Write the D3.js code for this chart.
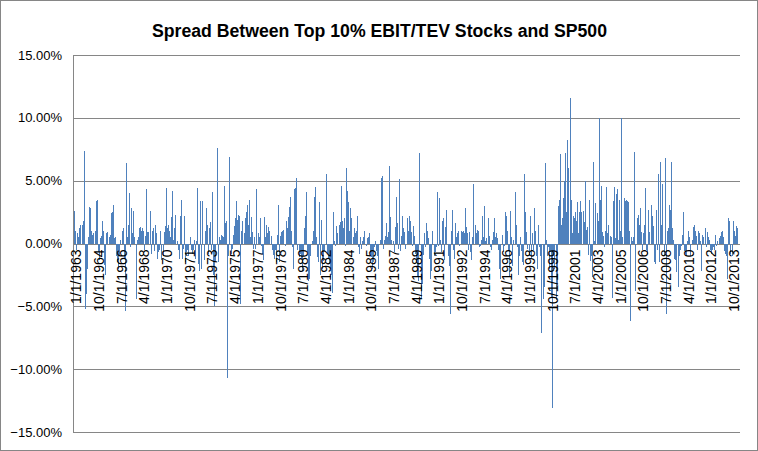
<!DOCTYPE html>
<html><head><meta charset="utf-8">
<script src="https://cdn.jsdelivr.net/npm/d3@7"></script>
<style>body{margin:0;background:#fff}svg{display:block}</style>
</head><body>
<svg id="c" width="758" height="451"></svg>
<script>
const title = "Spread Between Top 10% EBIT/TEV Stocks and SP500";
const startYear = 1963;
// monthly spread, percent
const spread = [
2.6,1.0,-0.5,0.8,0.5,1.2,1.5,1.5,1.8,7.4,-5.2,-4.0,-2.0,0.5,2.9,2.8,1.0,0.7,0.8,1.0,3.4,3.5,-0.7,-1.3,0.4,0.6,1.8,1.0,-1.7,-2.5,0.8,0.9,0.5,0.7,2.4,2.5,3.1,0.4,0.5,-1.0,-1.5,-2.0,-1.0,0.3,1.0,1.2,-1.2,-5.4,6.4,0.5,
1.5,4.0,-0.3,2.8,0.8,2.6,0.5,-4.4,0.3,0.5,1.2,1.3,1.0,1.2,1.0,-0.5,0.6,4.3,0.9,0.9,2.6,-0.8,1.0,1.2,-0.6,1.5,0.8,-1.2,-0.7,-0.5,1.0,-1.3,-1.0,0.9,1.4,4.4,1.2,1.5,1.0,0.5,2.1,4.2,0.3,1.2,2.3,0.2,-0.5,-1.2,2.2,3.5,-1.2,-0.4,
2.2,-1.5,-0.7,-0.5,-1.0,0.5,-0.5,-0.8,-0.5,0.3,-1.2,0.2,4.4,-1.6,-2.2,3.4,-2.0,3.4,-1.3,1.0,2.8,1.5,-0.8,1.2,1.7,-0.5,4.1,-2.5,-5.0,-1.5,7.6,-1.5,0.5,0.3,0.7,0.6,0.5,4.6,1.6,1.8,-10.7,-1.0,6.9,-0.8,-0.4,0.7,1.4,2.0,3.4,1.9,2.3,2.2,
-4.8,1.0,1.8,0.8,2.0,2.5,3.1,1.5,3.5,0.5,2.1,0.9,-0.4,0.5,-0.4,4.3,0.8,0.5,2.0,-0.2,-0.8,-1.3,2.1,0.5,1.5,0.8,1.3,1.0,0.6,-0.5,-0.9,-1.2,-0.5,-1.5,0.7,3.1,-1.5,0.6,0.9,1.0,1.1,-0.2,1.8,1.2,2.1,2.9,3.7,1.0,-0.3,-2.0,4.3,4.4,
5.2,-0.5,-1.1,-0.8,-1.2,-2.2,-1.0,1.2,2.2,4.1,-0.7,-3.0,-2.8,-1.0,0.2,1.0,3.7,4.5,0.5,-1.1,-1.5,3.3,-2.5,1.9,-2.0,-1.4,-0.6,5.5,-0.8,-1.2,-1.6,-2.0,-2.5,-3.9,2.5,0.2,-0.2,1.4,0.8,1.5,1.7,4.6,1.8,1.2,2.0,-0.2,6.0,4.2,3.3,1.0,2.8,2.0,
0.5,1.2,0.8,1.0,2.2,-0.3,-0.8,0.5,-0.4,0.2,0.5,1.0,-0.2,0.4,0.5,0.8,-1.0,-1.1,-2.0,-1.5,-0.3,0.2,-0.6,-1.0,-2.0,0.3,5.2,5.4,-0.4,0.3,0.6,1.6,0.5,0.9,6.2,2.1,0.3,0.2,-0.7,1.3,3.7,1.6,-0.4,5.1,-0.6,0.6,2.2,1.2,0.9,-0.4,2.0,1.0,
2.2,1.8,0.9,-0.2,1.4,0.6,-0.8,-1.5,-2.6,-3.0,7.2,-4.3,-3.2,-0.9,0.8,-0.3,1.6,1.0,0.4,-1.2,-2.8,-2.2,1.0,-1.0,-0.7,-0.3,4.1,-0.2,3.6,0.3,-0.7,1.8,2.0,-1.3,1.3,2.7,-1.0,-1.8,-5.6,1.0,2.7,-0.5,-1.2,1.6,0.5,0.8,1.0,-0.2,1.0,0.9,1.0,0.8,
2.8,1.3,0.8,-0.5,0.9,-0.7,-1.3,0.5,4.7,1.5,0.8,1.1,1.0,-0.3,-0.2,0.3,2.2,0.5,3.0,0.2,0.4,2.0,0.6,-0.3,-0.5,0.3,0.9,2.0,0.5,0.8,0.4,-0.5,-2.0,-2.8,0.7,-0.6,-0.2,2.5,2.2,1.0,-0.5,-2.6,2.6,0.5,-1.8,0.3,4.1,1.5,-0.3,-2.5,-1.0,0.5,
-0.6,-1.5,-1.7,5.5,2.5,0.9,-0.4,-1.0,2.2,-1.2,0.8,-0.5,2.8,1.0,-1.0,-2.0,1.5,-0.3,-1.0,-7.1,-4.4,-3.5,6.4,0.3,-1.0,-0.3,-2.0,-0.7,-4.3,-13.1,-1.0,-2.0,-4.5,-3.3,3.0,3.5,7.1,1.5,2.0,3.6,5.0,7.2,2.5,8.2,6.0,11.6,3.5,0.8,2.2,2.0,2.5,1.8,
3.3,0.8,2.5,3.4,2.5,2.6,1.7,5.0,1.1,1.3,-0.9,3.5,-1.4,-1.0,-2.7,6.5,0.2,3.2,2.4,1.8,10.0,3.5,4.6,0.9,0.6,-0.3,1.0,4.5,0.8,1.5,0.6,0.5,-4.3,3.4,4.5,0.4,3.9,4.3,0.3,3.5,1.0,10.0,0.5,3.6,3.4,3.5,3.4,3.3,1.0,-6.2,0.5,
0.2,0.5,7.3,-3.8,2.0,2.3,1.5,2.8,0.9,-0.5,0.8,1.5,4.4,-0.5,-0.8,2.7,0.9,3.1,2.2,1.4,-1.5,-1.6,2.7,-0.5,5.5,-1.5,6.5,1.5,4.7,-1.0,6.8,-5.6,1.0,1.2,3.1,2.7,6.5,1.2,0.3,-1.2,-1.3,-2.3,-3.5,-1.0,-0.5,-0.2,0.7,2.5,-0.6,-0.8,-1.0,
0.2,1.0,0.5,-1.0,0.3,1.3,1.5,1.0,0.6,-0.5,1.0,0.8,0.2,-2.2,0.7,0.5,1.2,-0.3,0.9,0.5,0.3,-0.5,-0.8,-0.5,-0.3,-0.5,0.7,-0.2,0.2,0.4,0.6,0.9,1.0,0.5,-0.6,-0.8,-1.0,-2.8,2.0,1.8,-0.8,-1.0,1.8,1.0,0.6,1.4,1.2
];
const yTicks = [-15, -10, -5, 0, 5, 10, 15];
const xTickLabels = ["1/1/1963","10/1/1964","7/1/1966","4/1/1968","1/1/1970","10/1/1971","7/1/1973","4/1/1975","1/1/1977","10/1/1978","7/1/1980","4/1/1982","1/1/1984","10/1/1985","7/1/1987","4/1/1989","1/1/1991","10/1/1992","7/1/1994","4/1/1996","1/1/1998","10/1/1999","7/1/2001","4/1/2003","1/1/2005","10/1/2006","7/1/2008","4/1/2010","1/1/2012","10/1/2013"];

const categories = spread.map((_, i) => `${(i % 12) + 1}/1/${startYear + Math.floor(i / 12)}`);
const data = categories.map((c, i) => ({c, v: spread[i]}));

(function draw() {
const W = 758, H = 451;
const svg = d3.select("#c");
const pLeft = 74, pRight = 738, pTop = 55, pBottom = 432;
const grey = "#868686";

svg.append("rect").attr("x", 0.5).attr("y", 0.5).attr("width", W - 1).attr("height", H - 1)
  .attr("fill", "#fff").attr("stroke", grey);

const x = d3.scaleBand().domain(categories).range([pLeft, pRight]).padding(0);
const y = d3.scaleLinear().domain([-15, 15]).range([pBottom, pTop]);

// gridlines
svg.append("g").selectAll("line").data(yTicks).join("line")
  .attr("x1", pLeft - 1).attr("x2", pRight + 2)
  .attr("y1", d => Math.round(y(d)) + 0.5).attr("y2", d => Math.round(y(d)) + 0.5)
  .attr("stroke", grey).attr("stroke-width", 1);

// y axis line
svg.append("line").attr("x1", pLeft - 0.5).attr("x2", pLeft - 0.5)
  .attr("y1", Math.round(y(15)) + 0.5).attr("y2", Math.round(y(-15)) + 0.5)
  .attr("stroke", grey);

// y labels
svg.append("g").selectAll("text").data(yTicks).join("text")
  .attr("x", 62).attr("y", d => y(d)).attr("dy", "0.35em")
  .attr("text-anchor", "end")
  .attr("font-family", "Liberation Sans, Arial, sans-serif").attr("font-size", 13)
  .attr("fill", "#000").text(d => d3.format(".2f")(d) + "%");

// bars
svg.append("g").attr("shape-rendering", "crispEdges").selectAll("rect").data(data).join("rect")
  .attr("x", d => x(d.c))
  .attr("width", 1)
  .attr("y", d => y(Math.max(0, d.v)))
  .attr("height", d => Math.abs(y(d.v) - y(0)))
  .attr("fill", "#4F81BD");

// x labels
const xg = svg.append("g");
xTickLabels.forEach(lab => {
  const cx = x(lab) + x.bandwidth() / 2;
  xg.append("text")
    .attr("transform", `translate(${cx + 2},${y(0) + 6}) rotate(-90)`)
    .attr("dy", "0.35em")
    .attr("text-anchor", "end")
    .attr("font-family", "Liberation Sans, Arial, sans-serif").attr("font-size", 14)
    .attr("fill", "#000").text(lab);
});

// title
svg.append("text").attr("x", 379.5).attr("y", 37)
  .attr("text-anchor", "middle")
  .attr("font-family", "Liberation Sans, Arial, sans-serif").attr("font-weight", "bold")
  .attr("font-size", 18).attr("textLength", 455).attr("lengthAdjust", "spacingAndGlyphs")
  .attr("fill", "#000").text(title);
})();
</script>
</body></html>
